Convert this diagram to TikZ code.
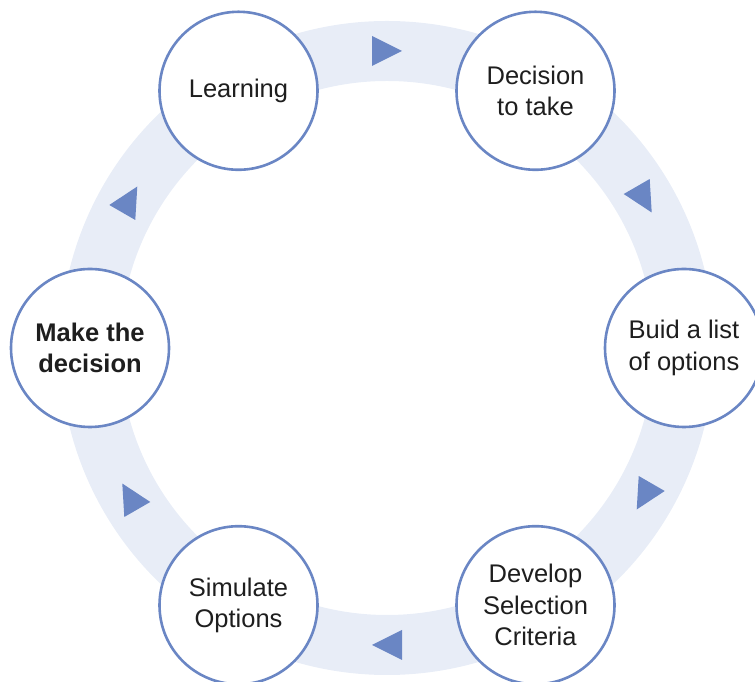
\documentclass[tikz,border=0pt]{standalone}
\usepackage{fontspec}
\setmainfont{Liberation Sans}
\usepackage{tikz}
\usetikzlibrary{calc}
\definecolor{ringcolor}{HTML}{E8EDF7}
\definecolor{linecolor}{HTML}{6A86C4}
\definecolor{textcolor}{HTML}{1E1E1E}

\tikzset{
  stage/.style={circle, draw=linecolor, line width=2.6pt, fill=white,
    minimum size=158pt, inner sep=0pt, align=center, text=textcolor,
    font=\fontsize{25.5}{31.5}\selectfont},
  tri/.style={fill=linecolor}
}

\begin{document}
\begin{tikzpicture}[x=1pt,y=1pt]
\useasboundingbox (0,0) rectangle (755,682);
\coordinate (c) at (387,334);
% the ring behind the stages
\draw[ringcolor, line width=60pt] (c) circle (297pt);
% arrows on the ring, clockwise
\begin{scope}[shift={(c)}]
\foreach \a in {90,30,-30,-90,-150,150}
    \fill[tri, rotate=\a] (297,-15) -- (282,15) -- (312,15) -- cycle;
\end{scope}
\node[stage] (learn)    at ($(c)+(120:297pt)$) {Learning};
\node[stage] (decide)   at ($(c)+(60:297pt)$)  {Decision\\to take};
\node[stage] (options)  at ($(c)+(0:297pt)$)   {Buid a list\\of options};
\node[stage] (criteria) at ($(c)+(-60:297pt)$) {Develop\\Selection\\Criteria};
\node[stage] (simulate) at ($(c)+(-120:297pt)$) {Simulate\\Options};
\node[stage, font=\fontsize{25.5}{31.5}\selectfont\bfseries] (make) at ($(c)+(180:297pt)$) {Make the\\decision};
\end{tikzpicture}
\end{document}
